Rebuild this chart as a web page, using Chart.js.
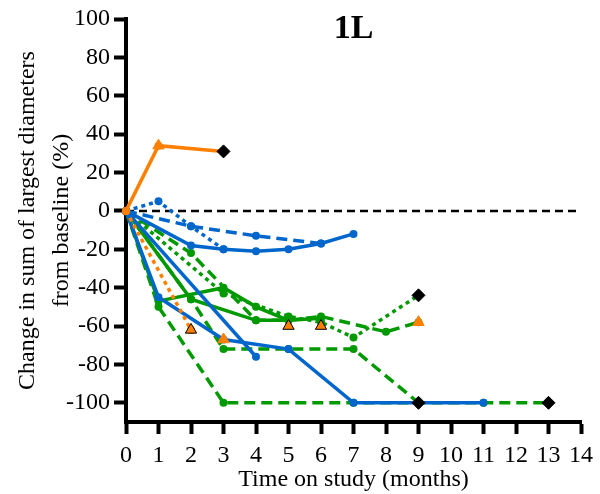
<!DOCTYPE html>
<html>
<head>
<meta charset="utf-8">
<script src="https://cdn.jsdelivr.net/npm/chart.js@4"></script>
<style>
  body { margin: 0; background: #fff; }
  canvas { display: block; }
</style>
</head>
<body>
<canvas id="chart" width="600" height="494"></canvas>
<script>
// Values: months (x) and % change (y) per patient line
var orangeSolidX = [0, 1, 3];
var orangeSolidY = [0, 34, 31];
var orangeDottedX = [0, 2];
var orangeDottedY = [0, -62];

var blueDottedX = [0, 1, 2, 3];
var blueDottedY = [0, 5, -8, -20];
var blueDashedX = [0, 2, 4, 6];
var blueDashedY = [0, -8, -13, -17];
var blueSolid1X = [0, 2, 3, 4, 5, 6, 7];
var blueSolid1Y = [0, -18, -20, -21, -20, -17, -12];
var blueSolid2X = [0, 1, 3, 5, 7, 9, 11];
var blueSolid2Y = [0, -45, -67, -72, -100, -100, -100];
var blueSolid3X = [0, 4];
var blueSolid3Y = [0, -76];

var greenSolid1X = [0, 1, 3, 4, 5];
var greenSolid1Y = [0, -47, -40, -50, -57];
var greenSolid2X = [0, 2, 4, 5, 6];
var greenSolid2Y = [0, -46, -57, -57, -56];
var greenDottedX = [0, 3, 5, 6, 7, 9];
var greenDottedY = [0, -43, -55, -58, -66, -44];
var greenDashedAX = [0, 1, 3, 7, 11, 13];
var greenDashedAY = [0, -50, -100, -100, -100, -100];
var greenDashedBX = [0, 2, 3, 5, 7, 9];
var greenDashedBY = [0, -46, -72, -72, -72, -100];
var greenDashedCX = [0, 2, 4, 5, 6, 8, 9];
var greenDashedCY = [0, -22, -57, -57, -55, -63, -58];

// event markers
var triangleX = [1, 3, 9];
var triangleY = [34, -67, -58];
var triangleEdgedX = [2, 5, 6];
var triangleEdgedY = [-62, -60, -60];
var diamondX = [3, 9, 9, 13];
var diamondY = [31, -44, -100, -100];

var baselineX = [0, 14];
var baselineY = [0, 0];

var monthTicks = [0, 14];
var pctRange = [-110, 100];

const ORANGE = "rgb(255, 128, 0)";
const BLUE = "rgb(0, 102, 204)";
const GREEN = "rgb(0, 153, 0)";
const SERIF = "'Liberation Serif', 'Times New Roman', serif";

function pts(xs, ys) {
  return xs.map(function (x, i) {
    return { x: x, y: ys[i] };
  });
}

function lineSet(xs, ys, color, dash, order) {
  return {
    data: pts(xs, ys),
    borderColor: color,
    backgroundColor: color,
    borderWidth: 3.5,
    borderDash: dash,
    borderCapStyle: "butt",
    pointRadius: 4,
    pointHoverRadius: 4,
    pointBorderWidth: 0,
    tension: 0,
    clip: false,
    order: order,
  };
}

function markerSet(xs, ys, style, fill, edge, radius) {
  return {
    data: pts(xs, ys),
    showLine: false,
    pointStyle: style,
    pointRadius: radius,
    pointHoverRadius: radius,
    backgroundColor: fill,
    borderColor: edge,
    pointBorderWidth: 1,
    clip: false,
    order: 0,
  };
}

const DOTTED = [4, 4];
const DASHED = [11, 6];

var datasets = [
  lineSet(baselineX, baselineY, "#000", [8, 5], 9),
  lineSet(greenDashedAX, greenDashedAY, GREEN, DASHED, 5),
  lineSet(greenDashedBX, greenDashedBY, GREEN, DASHED, 5),
  lineSet(greenDashedCX, greenDashedCY, GREEN, DASHED, 5),
  lineSet(greenSolid1X, greenSolid1Y, GREEN, [], 4),
  lineSet(greenSolid2X, greenSolid2Y, GREEN, [], 4),
  lineSet(greenDottedX, greenDottedY, GREEN, DOTTED, 4),
  lineSet(blueDottedX, blueDottedY, BLUE, DOTTED, 3),
  lineSet(blueDashedX, blueDashedY, BLUE, DASHED, 3),
  lineSet(blueSolid1X, blueSolid1Y, BLUE, [], 2),
  lineSet(blueSolid2X, blueSolid2Y, BLUE, [], 2),
  lineSet(blueSolid3X, blueSolid3Y, BLUE, [], 2),
  lineSet(orangeDottedX, orangeDottedY, ORANGE, DOTTED, 1),
  lineSet(orangeSolidX, orangeSolidY, ORANGE, [], 1),
  markerSet(triangleX, triangleY, "triangle", ORANGE, ORANGE, 6.5),
  markerSet(triangleEdgedX, triangleEdgedY, "triangle", ORANGE, "#000", 6.5),
  markerSet(diamondX, diamondY, "rectRot", "#000", "#000", 6.5),
];
datasets[0].pointRadius = 0;
datasets[0].borderWidth = 2.5;

// Panel label drawn at the top centre of the plot area
var panelLabel = {
  id: "panelLabel",
  afterDatasetsDraw: function (chart) {
    var ctx = chart.ctx;
    var area = chart.chartArea;
    ctx.save();
    ctx.font = "bold 34px " + SERIF;
    ctx.fillStyle = "#000";
    ctx.textAlign = "center";
    ctx.textBaseline = "middle";
    ctx.fillText("1L", (area.left + area.right) / 2, area.top + 10);
    ctx.restore();
  },
};

var axisStyle = {
  border: { display: true, color: "#000", width: 4 },
  grid: {
    drawOnChartArea: false,
    drawTicks: true,
    tickLength: 12,
    tickWidth: 4,
    tickColor: "#000",
    color: "#000",
  },
};

new Chart(document.getElementById("chart"), {
  type: "line",
  data: { datasets: datasets },
  plugins: [panelLabel],
  options: {
    responsive: false,
    animation: false,
    events: [],
    layout: { padding: { top: 19, right: 12, left: 0, bottom: 0 } },
    plugins: { legend: { display: false }, tooltip: { enabled: false } },
    scales: {
      x: Object.assign({}, axisStyle, {
        type: "linear",
        min: monthTicks[0],
        max: monthTicks[1],
        ticks: {
          stepSize: 1,
          color: "#000",
          font: { family: SERIF, size: 24 },
          padding: 7,
          maxRotation: 0,
          autoSkip: false,
        },
        title: {
          display: true,
          text: "Time on study (months)",
          color: "#000",
          font: { family: SERIF, size: 24 },
          padding: { top: 5, bottom: 0 },
        },
        afterFit: function (scale) {
          scale.height = 72;
        },
      }),
      y: Object.assign({}, axisStyle, {
        min: pctRange[0],
        max: pctRange[1],
        ticks: {
          stepSize: 20,
          includeBounds: false,
          color: "#000",
          font: { family: SERIF, size: 24 },
          padding: 4,
        },
        afterBuildTicks: function (scale) {
          scale.ticks = scale.ticks.filter(function (t) {
            return t.value >= -100;
          });
        },
        title: {
          display: true,
          text: ["Change in sum of largest diameters", "from baseline (%)"],
          color: "#000",
          font: { family: SERIF, size: 24, lineHeight: 1.4 },
          padding: { top: 11, bottom: 0 },
        },
        afterFit: function (scale) {
          scale.width = 126;
        },
      }),
    },
  },
});
</script>
</body>
</html>
